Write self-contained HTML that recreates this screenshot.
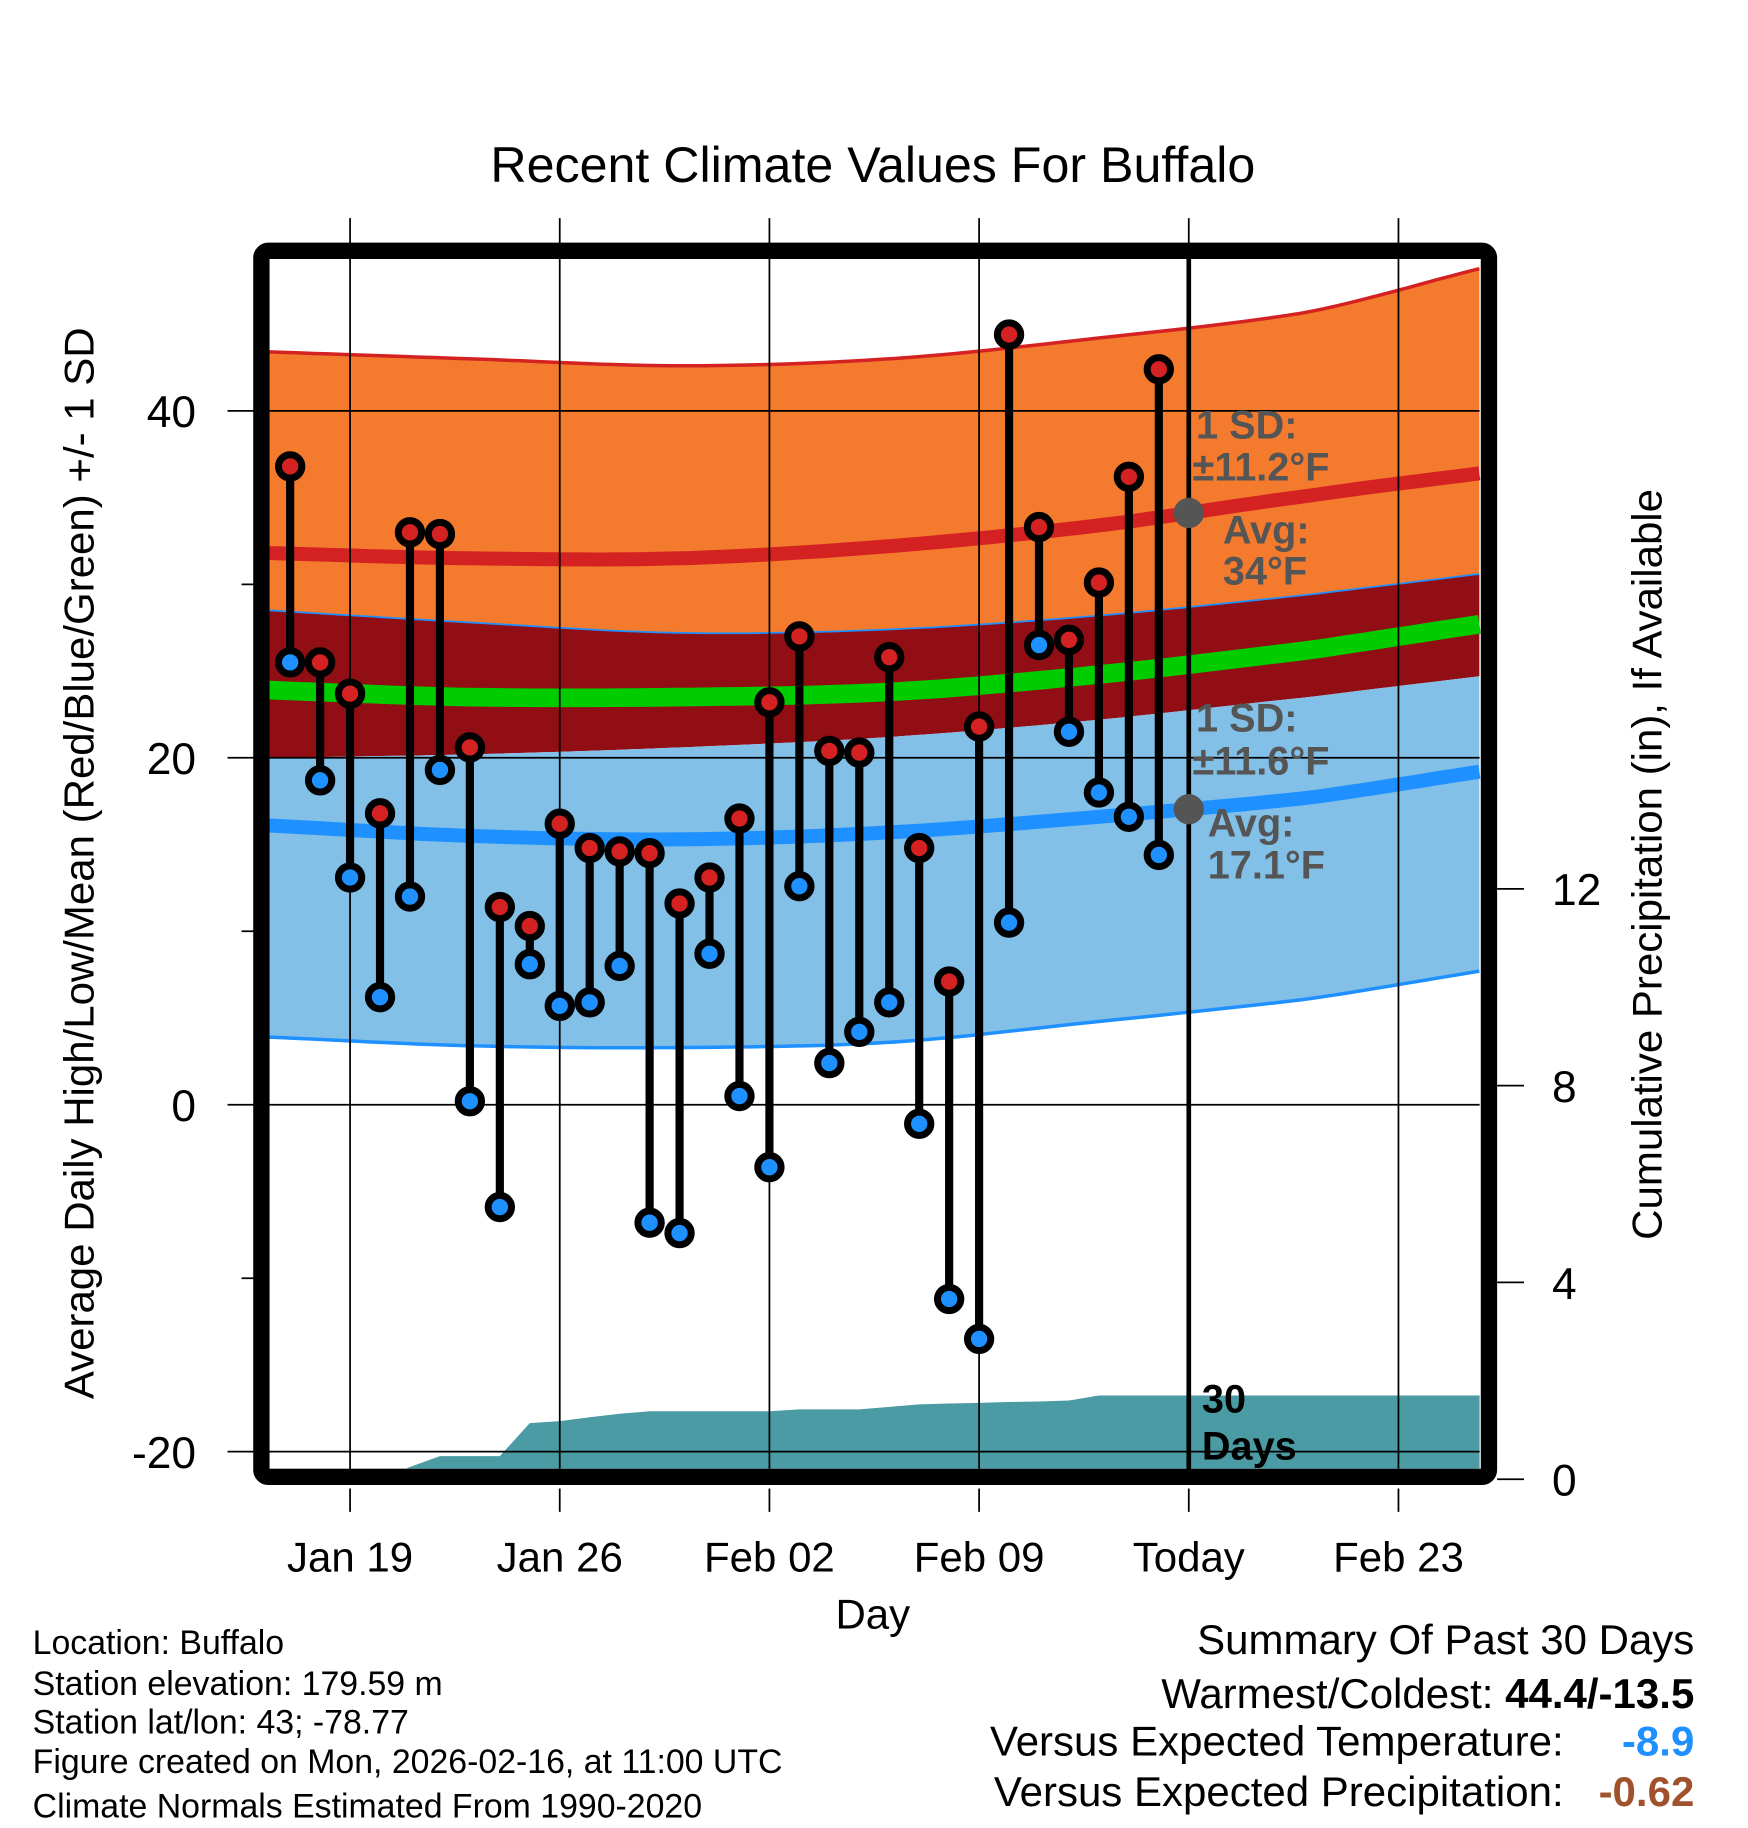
<!DOCTYPE html>
<html><head><meta charset="utf-8"><style>
html,body{margin:0;padding:0;background:#fff;}
svg{display:block;font-family:"Liberation Sans",Arial,sans-serif;}
</style></head><body>
<svg id="chart" width="1748" height="1828" viewBox="0 0 1498 1567" preserveAspectRatio="none" xmlns="http://www.w3.org/2000/svg">
<rect x="0" y="0" width="1498" height="1567" fill="#fff"/>
<text x="748" y="156" font-size="43" text-anchor="middle">Recent Climate Values For Buffalo</text>
<g id="bands"></g>
<g id="precip"></g>
<g id="grid"></g>
<g id="marks"></g>
<g id="annot"></g>
<rect x="224" y="215" width="1052" height="1051" rx="6" fill="none" stroke="#000" stroke-width="14"/>
<g id="axes"></g>
<text transform="translate(80,740) rotate(-90)" font-size="36" text-anchor="middle">Average Daily High/Low/Mean (Red/Blue/Green) +/- 1 SD</text>
<text transform="translate(1424,741) rotate(-90)" font-size="36" text-anchor="middle">Cumulative Precipitation (in), If Available</text>
<text x="748" y="1396" font-size="36" text-anchor="middle">Day</text>
<g font-size="29">
<text x="28" y="1418">Location: Buffalo</text>
<text x="28" y="1453">Station elevation: 179.59 m</text>
<text x="28" y="1486">Station lat/lon: 43; -78.77</text>
<text x="28" y="1520">Figure created on Mon, 2026-02-16, at 11:00 UTC</text>
<text x="28" y="1558">Climate Normals Estimated From 1990-2020</text>
</g>
<g font-size="36">
<text x="1452" y="1418" text-anchor="end">Summary Of Past 30 Days</text>
<text x="1452" y="1464" text-anchor="end">Warmest/Coldest: <tspan font-weight="bold">44.4/-13.5</tspan></text>
<text x="1340" y="1505" text-anchor="end">Versus Expected Temperature:</text>
<text x="1452" y="1505" text-anchor="end" font-weight="bold" fill="#1e90ff">-8.9</text>
<text x="1340" y="1548" text-anchor="end">Versus Expected Precipitation:</text>
<text x="1452" y="1548" text-anchor="end" font-weight="bold" fill="#a0522d">-0.62</text>
</g>
</svg>
<script>
// Day numbers: Jan d = d, Feb d = 31 + d
const dayStart = 17;
const highs = [36.8,25.5,23.7,16.8,33.0,32.9,20.6,11.4,10.3,16.2,14.8,14.6,14.5,11.6,13.1,16.5,23.2,27.0,20.4,20.3,25.8,14.8,7.1,21.8,44.4,33.3,26.8,30.1,36.2,42.4];
const lows  = [25.5,18.7,13.1,6.2,12.0,19.3,0.2,-5.9,8.1,5.7,5.9,8.0,-6.8,-7.4,8.7,0.5,-3.6,12.6,2.4,4.2,5.9,-1.1,-11.2,-13.5,10.5,26.5,21.5,18.0,16.6,14.4];
const precip = [0,0,0,0,0.25,0.47,0.47,0.47,1.14,1.18,1.26,1.33,1.38,1.38,1.38,1.38,1.38,1.42,1.42,1.42,1.47,1.52,1.54,1.55,1.57,1.58,1.6,1.7,1.7,1.7];
const normDays = [16.3,23,30,37,44,51,56.7];
const highUpper = [43.4,43.0,42.6,43.0,44.2,45.7,48.2];
const highAvg   = [31.8,31.5,31.5,32.2,33.4,35.1,36.4];
const highLower = [28.5,27.8,27.2,27.4,28.2,29.4,30.6];
const meanAvg   = [23.9,23.5,23.5,23.8,24.8,26.2,27.7];
const lowUpper  = [20.0,20.2,20.6,21.2,22.2,23.5,24.7];
const lowAvg    = [16.1,15.5,15.3,15.7,16.6,17.7,19.2];
const lowLower  = [3.9,3.4,3.3,3.6,4.8,6.1,7.7];
const yTicks = [40,20,0,-20];
const yMinor = [30,10,-10];
const y2Ticks = [0,4,8,12];
const xTickDays = [19,26,33,40,47,54];
const xTickLabels = ["Jan 19","Jan 26","Feb 02","Feb 09","Today","Feb 23"];
const todayDay = 47;

const NS="http://www.w3.org/2000/svg";
const X0=231, X1=1268, Y0=222, Y1=1259;
const xs = d => 300 + (d-19)*25.67;
const ys = v => 947 - v*14.87;
const yp = p => 1268 - p*42.17;
function mk(tag, attrs, parent){const e=document.createElementNS(NS,tag);for(const k in attrs)e.setAttribute(k,attrs[k]);parent.appendChild(e);return e;}
function interp(arr,d){
  const n=normDays.length;
  for(let i=0;i<n-1;i++){
    if(d<=normDays[i+1]||i===n-2){
      const t=(d-normDays[i])/(normDays[i+1]-normDays[i]);
      const p0=arr[Math.max(i-1,0)],p1=arr[i],p2=arr[i+1],p3=arr[Math.min(i+2,n-1)];
      const m1=(p2-(i>0?p0:p1-(p2-p1)))/2, m2=((i+2<n?p3:p2+(p2-p1))-p1)/2;
      const t2=t*t,t3=t2*t;
      return (2*t3-3*t2+1)*p1+(t3-2*t2+t)*m1+(-2*t3+3*t2)*p2+(t3-t2)*m2;
    }
  }
  return arr[n-1];
}
const samp=[];for(let d=normDays[0];d<normDays[6];d+=0.5)samp.push(d);samp.push(normDays[6]);
const line=arr=>samp.map(d=>xs(d).toFixed(1)+","+ys(interp(arr,d)).toFixed(1));
function band(a,b){return "M"+line(a).join(" L")+" L"+line(b).reverse().join(" L")+" Z";}
const bands=document.getElementById('bands');
let e;
e=mk('path',{d:band(highUpper,highLower),fill:'#f47a2e'},bands);


e=mk('path',{d:band(highLower,lowUpper),fill:'#920e15'},bands);


e=mk('path',{d:band(lowUpper,lowLower),fill:'#82c0e8'},bands);


const lines=[[highUpper,'#d42121',3,'high-upper-line'],[highLower,'#1e90ff',1.5,'high-lower-line'],[highAvg,'#d42121',12,'high-avg-line'],[meanAvg,'#00cc00',16,'mean-line'],[lowAvg,'#1e90ff',12,'low-avg-line'],[lowLower,'#1e90ff',3,'low-lower-line']];
lines.forEach(l=>{
  const p=mk('path',{d:"M"+line(l[0]).join(" L"),fill:'none',stroke:l[1],'stroke-width':l[2]},bands);
  
  
});
// precip area
const pg=document.getElementById('precip');
let pts=[X0+","+Y1];
precip.forEach((p,i)=>pts.push(xs(dayStart+i).toFixed(1)+","+yp(p).toFixed(1)));
pts.push(X1+","+yp(precip[precip.length-1]).toFixed(1));pts.push(X1+","+Y1);
e=mk('polygon',{points:pts.join(" "),fill:'#4a9ba4'},pg);


// grid
const grid=document.getElementById('grid');
xTickDays.forEach(d=>{
  const g=mk('line',{x1:xs(d),x2:xs(d),y1:187,y2:Y1,stroke:'#000','stroke-width':1.5},grid);
  
  
  const t=mk('line',{x1:xs(d),x2:xs(d),y1:1276,y2:1296,stroke:'#000','stroke-width':1.5},grid);
  
  
});
yTicks.forEach(v=>{
  const g=mk('line',{x1:195,x2:X1,y1:ys(v),y2:ys(v),stroke:'#000','stroke-width':1.5},grid);
  
  
});
yMinor.forEach(v=>{
  const g=mk('line',{x1:207,x2:224,y1:ys(v),y2:ys(v),stroke:'#000','stroke-width':1.5},grid);
  
  
});
// today line
e=mk('line',{x1:xs(todayDay),x2:xs(todayDay),y1:215,y2:1266,stroke:'#000','stroke-width':4},grid);


// marks
const mg=document.getElementById('marks');
highs.forEach((h,i)=>{
  const x=xs(dayStart+i);
  const s=mk('line',{x1:x,x2:x,y1:ys(h),y2:ys(lows[i]),stroke:'#000','stroke-width':7},mg);
  
  
});
highs.forEach((h,i)=>{
  const x=xs(dayStart+i);
  const c1=mk('circle',{cx:x,cy:ys(lows[i]),r:10,fill:'#1e90ff',stroke:'#000','stroke-width':6},mg);
  
  
  const c2=mk('circle',{cx:x,cy:ys(h),r:10,fill:'#d42121',stroke:'#000','stroke-width':6},mg);
  
  
});
// annotations
const an=document.getElementById('annot');
const tx=xs(todayDay);
e=mk('circle',{cx:tx,cy:ys(interp(highAvg,todayDay)),r:13,fill:'#555'},an);


e=mk('circle',{cx:tx,cy:ys(interp(lowAvg,todayDay)),r:13,fill:'#555'},an);


const notes=[["1 SD:",1025,376,'#555'],["\u00b111.2\u00b0F",1022,412,'#555'],["Avg:",1048,466,'#555'],["34\u00b0F",1048,501,'#555'],["1 SD:",1025,627,'#555'],["\u00b111.6\u00b0F",1022,664,'#555'],["Avg:",1035,717,'#555'],["17.1\u00b0F",1035,753,'#555'],["30",1030,1211,'#000'],["Days",1030,1251,'#000']];
notes.forEach(n=>{
  const t=mk('text',{x:n[1],y:n[2],'font-size':34,'font-weight':'bold',fill:n[3]},an);
  t.textContent=n[0];
  
  
});
// axes labels
const ax=document.getElementById('axes');
yTicks.forEach(v=>{
  const t=mk('text',{x:168,y:ys(v)+14,'font-size':38,'text-anchor':'end'},ax);
  t.textContent=v;
  
  
});
y2Ticks.forEach(v=>{
  const l=mk('line',{x1:1283,x2:1306,y1:yp(v),y2:yp(v),stroke:'#000','stroke-width':1.5},ax);
  
  
  const t=mk('text',{x:1330,y:yp(v)+14,'font-size':38},ax);
  t.textContent=v;
  
  
});
xTickDays.forEach((d,i)=>{
  const t=mk('text',{x:xs(d),y:1347,'font-size':36,'text-anchor':'middle'},ax);
  t.textContent=xTickLabels[i];
  
  
});
</script>
</body></html>
